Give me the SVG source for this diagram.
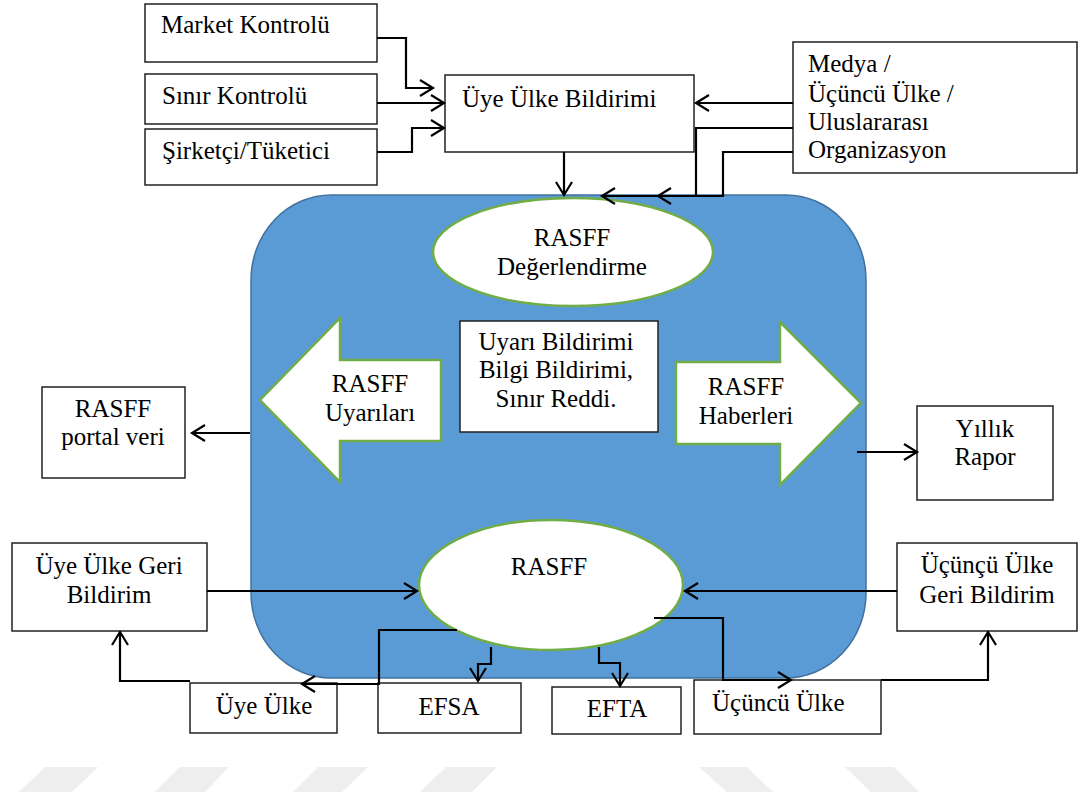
<svg xmlns="http://www.w3.org/2000/svg" width="1080" height="796" viewBox="0 0 1080 796">
<style>
  text { font-family: "Liberation Serif", "Times New Roman", serif; font-size: 25px; fill: #000; }
  .c { text-anchor: middle; }
  .box { fill: #fff; stroke: #222; stroke-width: 1.5; }
  .green { fill: #fff; stroke: #70AD47; stroke-width: 2.5; }
  .conn { fill: none; stroke: #000; stroke-width: 2.2; }
  .wm { fill: #EEEEEE; }
</style>
<defs>
  <marker id="arr" markerUnits="userSpaceOnUse" markerWidth="18" markerHeight="20" refX="15" refY="10" orient="auto">
    <path d="M2,2 L15,10 L2,18" fill="none" stroke="#000" stroke-width="2.2"/>
  </marker>
</defs>
<rect width="1080" height="796" fill="#fff"/>
<g id="watermark">
  <polygon class="wm" points="45,767 98,767 72,792 19,792"/>
  <polygon class="wm" points="180,767 229,767 205,792 155,792"/>
  <polygon class="wm" points="318,767 368,767 342,792 293,792"/>
  <polygon class="wm" points="446,767 497,767 472,792 420,792"/>
  <polygon class="wm" points="699,767 747,767 773,792 727,792"/>
  <polygon class="wm" points="845,767 894,767 919,792 871,792"/>
</g>
<g id="rasff-system">
  <rect x="251" y="195" width="615" height="483" rx="80" ry="85" fill="#5B9BD5" stroke="#41719C" stroke-width="1.5"/>
</g>
<g id="market-kontrolu">
  <rect class="box" x="145" y="4" width="232" height="58"/>
  <text x="161" y="33">Market Kontrolü</text>
</g>
<g id="sinir-kontrolu">
  <rect class="box" x="145" y="74" width="232" height="50"/>
  <text x="162" y="104">Sınır Kontrolü</text>
</g>
<g id="sirketci-tuketici">
  <rect class="box" x="145" y="129" width="232" height="56"/>
  <text x="162" y="159">Şirketçi/Tüketici</text>
</g>
<g id="uye-ulke-bildirimi">
  <rect class="box" x="445" y="75" width="249" height="77"/>
  <text x="462" y="107">Üye Ülke Bildirimi</text>
</g>
<g id="medya">
  <rect class="box" x="793" y="42" width="284" height="131"/>
  <text x="808" y="72">Medya /</text>
  <text x="808" y="102">Üçüncü Ülke /</text>
  <text x="808" y="130">Uluslararası</text>
  <text x="808" y="158">Organizasyon</text>
</g>
<g id="rasff-degerlendirme">
  <ellipse class="green" cx="573" cy="252" rx="140" ry="54"/>
  <text class="c" x="572" y="246">RASFF</text>
  <text class="c" x="572" y="275">Değerlendirme</text>
</g>
<g id="rasff-uyarilari">
  <polygon class="green" stroke-width="2" points="260,400 340,318 340,360 441,360 441,441 340,441 340,482"/>
  <text class="c" x="370" y="392">RASFF</text>
  <text class="c" x="370" y="421">Uyarıları</text>
</g>
<g id="bildirim-turleri">
  <rect class="box" x="460" y="321" width="198" height="111"/>
  <text class="c" x="556" y="350">Uyarı Bildirimi</text>
  <text class="c" x="556" y="378">Bilgi Bildirimi,</text>
  <text class="c" x="556" y="407">Sınır Reddi.</text>
</g>
<g id="rasff-haberleri">
  <polygon class="green" stroke-width="2" points="676,362 780,362 780,322 861,403 780,485 780,444 676,444"/>
  <text class="c" x="746" y="395">RASFF</text>
  <text class="c" x="746" y="424">Haberleri</text>
</g>
<g id="rasff-portal-veri">
  <rect class="box" x="42" y="387" width="143" height="91"/>
  <text class="c" x="113" y="417">RASFF</text>
  <text class="c" x="113" y="445">portal veri</text>
</g>
<g id="yillik-rapor">
  <rect class="box" x="917" y="406" width="136" height="94"/>
  <text class="c" x="985" y="437">Yıllık</text>
  <text class="c" x="985" y="465">Rapor</text>
</g>
<g id="rasff">
  <ellipse class="green" cx="551" cy="585" rx="132" ry="65"/>
  <text class="c" x="549" y="575">RASFF</text>
</g>
<g id="uye-ulke-geri-bildirim">
  <rect class="box" x="12" y="543" width="195" height="88"/>
  <text class="c" x="109" y="574">Üye Ülke Geri</text>
  <text class="c" x="109" y="603">Bildirim</text>
</g>
<g id="ucuncu-ulke-geri-bildirim">
  <rect class="box" x="897" y="543" width="180" height="88"/>
  <text class="c" x="987" y="573">Üçünçü Ülke</text>
  <text class="c" x="987" y="603">Geri Bildirim</text>
</g>
<g id="uye-ulke">
  <rect class="box" x="190" y="683" width="147" height="50"/>
  <text class="c" x="264" y="714">Üye Ülke</text>
</g>
<g id="efsa">
  <rect class="box" x="378" y="683" width="143" height="50"/>
  <text class="c" x="449" y="715">EFSA</text>
</g>
<g id="efta">
  <rect class="box" x="552" y="687" width="129" height="47"/>
  <text class="c" x="617" y="717">EFTA</text>
</g>
<g id="ucuncu-ulke">
  <rect class="box" x="694" y="680" width="187" height="54"/>
  <text x="712" y="711">Üçüncü Ülke</text>
</g>
<g id="connectors">
  <path class="conn" stroke-width="2.6" d="M377,38 H406 V88 H433" marker-end="url(#arr)"/>
  <path class="conn" stroke-width="2.6" d="M377,103 H444" marker-end="url(#arr)"/>
  <path class="conn" stroke-width="2.6" d="M377,152 H412 V128 H444" marker-end="url(#arr)"/>
  <path class="conn" stroke-width="2.6" d="M564,152 V195" marker-end="url(#arr)"/>
  <path class="conn" stroke-width="2.6" d="M793,103 H696" marker-end="url(#arr)"/>
  <path class="conn" stroke-width="2.6" d="M793,128 H696 V196 H658" marker-end="url(#arr)"/>
  <path class="conn" stroke-width="2.6" d="M793,152 H723 V196 H602" marker-end="url(#arr)"/>
  <path class="conn" d="M250,433 H192" marker-end="url(#arr)"/>
  <path class="conn" d="M857,452 H917" marker-end="url(#arr)"/>
  <path class="conn" d="M207,591 H417" marker-end="url(#arr)"/>
  <path class="conn" d="M897,591 H685" marker-end="url(#arr)"/>
  <path class="conn" stroke-width="2.6" d="M457,630 H379 V684 H302" marker-end="url(#arr)"/>
  <path class="conn" stroke-width="2.6" d="M190,681 H120 V632" marker-end="url(#arr)"/>
  <path class="conn" stroke-width="2.6" d="M491,647 V664 H478 V681" marker-end="url(#arr)"/>
  <path class="conn" stroke-width="2.6" d="M599,647 V663 H620 V686" marker-end="url(#arr)"/>
  <path class="conn" stroke-width="2.6" d="M654,618 H723 V680 H791" marker-end="url(#arr)"/>
  <path class="conn" stroke-width="2.6" d="M881,680 H988 V632" marker-end="url(#arr)"/>
</g>
</svg>
